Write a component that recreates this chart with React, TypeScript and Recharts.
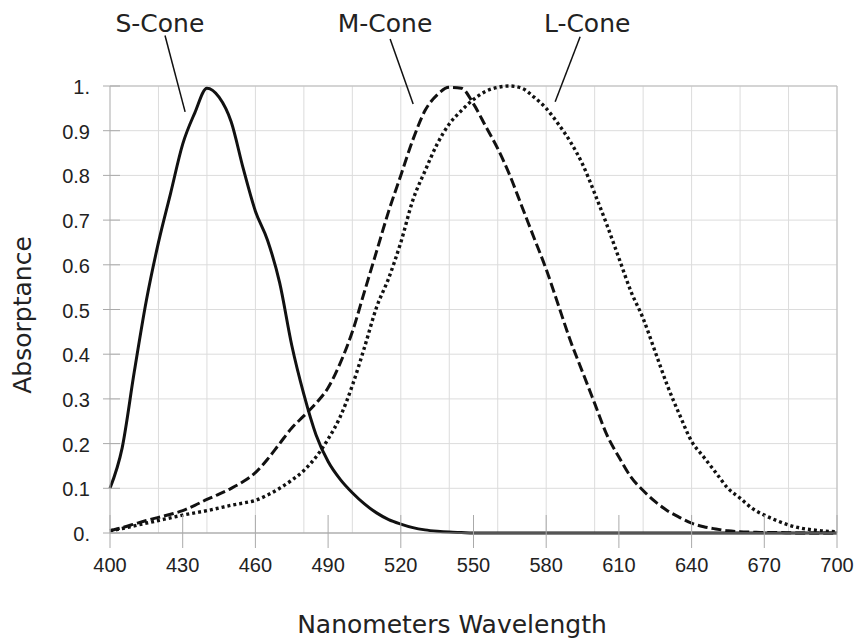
import { LineChart, Line, XAxis, YAxis, CartesianGrid, ReferenceLine, ReferenceDot } from 'recharts';

const wavelengths = [
  400, 405, 410, 415, 420, 425, 430, 435, 440, 445, 450, 455, 460, 465, 470, 475, 480, 485, 490, 495,
  500, 505, 510, 515, 520, 525, 530, 535, 540, 545, 550, 555, 560, 565, 570, 575, 580, 585, 590, 595,
  600, 605, 610, 615, 620, 625, 630, 635, 640, 645, 650, 655, 660, 665, 670, 675, 680, 685, 690, 695, 700,
];

const sCone = [
  0.1, 0.19, 0.36, 0.52, 0.65, 0.76, 0.87, 0.94, 0.995, 0.975, 0.92, 0.815, 0.72, 0.655, 0.56, 0.42, 0.31, 0.22, 0.16, 0.12,
  0.09, 0.065, 0.045, 0.03, 0.02, 0.012, 0.007, 0.004, 0.002, 0.001, 0, 0, 0, 0, 0, 0, 0, 0, 0, 0,
  0, 0, 0, 0, 0, 0, 0, 0, 0, 0, 0, 0, 0, 0, 0, 0, 0, 0, 0, 0, 0,
];

const mCone = [
  0.005, 0.012, 0.02, 0.028, 0.035, 0.042, 0.05, 0.062, 0.075, 0.087, 0.1, 0.115, 0.135, 0.165, 0.2, 0.235, 0.262, 0.29, 0.325, 0.38,
  0.45, 0.54, 0.63, 0.72, 0.8, 0.88, 0.945, 0.98, 0.997, 0.995, 0.96, 0.91, 0.86, 0.8, 0.73, 0.66, 0.59, 0.51, 0.43, 0.36,
  0.29, 0.22, 0.17, 0.125, 0.095, 0.07, 0.05, 0.035, 0.022, 0.014, 0.009, 0.005, 0.003, 0.002, 0.001, 0.001, 0.0005, 0, 0, 0, 0,
];

const lCone = [
  0.005, 0.01, 0.016, 0.022, 0.028, 0.034, 0.04, 0.045, 0.05, 0.056, 0.062, 0.067, 0.073, 0.085, 0.1, 0.118, 0.14, 0.17, 0.21, 0.26,
  0.33, 0.415, 0.505, 0.57, 0.65, 0.745, 0.81, 0.87, 0.915, 0.945, 0.97, 0.988, 0.997, 1.0, 0.995, 0.975, 0.95, 0.915, 0.875, 0.825,
  0.76, 0.69, 0.615, 0.54, 0.48, 0.405, 0.33, 0.265, 0.205, 0.17, 0.135, 0.1, 0.078, 0.055, 0.04, 0.028, 0.018, 0.011, 0.007, 0.004, 0.003,
];

const xTicks = [400, 430, 460, 490, 520, 550, 580, 610, 640, 670, 700];
const yTicks = [0, 0.1, 0.2, 0.3, 0.4, 0.5, 0.6, 0.7, 0.8, 0.9, 1];
const gridX = [
  400, 410, 420, 430, 440, 450, 460, 470, 480, 490, 500, 510, 520, 530, 540, 550,
  560, 570, 580, 590, 600, 610, 620, 630, 640, 650, 660, 670, 680, 690, 700,
];
const gridY = [
  0, 0.05, 0.1, 0.15, 0.2, 0.25, 0.3, 0.35, 0.4, 0.45, 0.5, 0.55, 0.6, 0.65, 0.7, 0.75, 0.8, 0.85, 0.9, 0.95, 1,
];

// cone labels and their leader lines, in data units (above the plot top)
const coneNames = ['S-Cone', 'M-Cone', 'L-Cone'];
const labelAt = [
  { nm: 420.6, v: 1.14 },
  { nm: 513.5, v: 1.14 },
  { nm: 596.9, v: 1.14 },
];
const leaders = [
  [{ x: 422.7, y: 1.113 }, { x: 431, y: 0.942 }],
  [{ x: 515.6, y: 1.105 }, { x: 525.1, y: 0.96 }],
  [{ x: 594, y: 1.11 }, { x: 583.7, y: 0.965 }],
];

const data = wavelengths.map((nm, i) => ({ nm, s: sCone[i], m: mCone[i], l: lCone[i] }));

const tickFont = '"Liberation Sans", Arial, sans-serif';
const titleFont = '"DejaVu Sans", Verdana, sans-serif';

const XTick = (props: any) => {
  const { x, y, payload } = props;
  return (
    <g>
      <line x1={x} x2={x} y1={y - 18} y2={y + 15} stroke="#aaa" />
      <text x={x} y={y + 39} textAnchor="middle" fontSize={20} fontFamily={tickFont} fill="#222">
        {payload.value}
      </text>
    </g>
  );
};

const YTick = (props: any) => {
  const { x, y, payload } = props;
  const v = payload.value;
  const txt = v === 0 ? '0.' : v === 1 ? '1.' : v.toFixed(1);
  return (
    <g>
      <line x1={x - 7} x2={x + 10} y1={y} y2={y} stroke="#aaa" />
      <text x={x - 20} y={y + 8} textAnchor="end" fontSize={20} fontFamily={tickFont} fill="#222">
        {txt}
      </text>
    </g>
  );
};

export default function App() {
  return (
    <div style={{ position: 'absolute', left: 0, top: 0, background: '#fff' }}>
      <LineChart width={854} height={639} data={data} margin={{ top: 86, right: 17, bottom: 0, left: 0 }}>
        <CartesianGrid stroke="#dcdcdc" verticalValues={gridX} horizontalValues={gridY} />
        <XAxis
          dataKey="nm"
          type="number"
          domain={[400, 700]}
          ticks={xTicks}
          height={106}
          tickSize={0}
          tickMargin={0}
          tickLine={false}
          axisLine={{ stroke: '#999' }}
          tick={<XTick />}
          label={{
            content: () => (
              <text x={452} y={633} textAnchor="middle" fontSize={25} fontFamily={titleFont} fill="#222">
                Nanometers Wavelength
              </text>
            ),
          }}
        />
        <YAxis
          type="number"
          domain={[0, 1]}
          ticks={yTicks}
          width={110}
          tickSize={0}
          tickMargin={0}
          tickLine={false}
          axisLine={{ stroke: '#bbb' }}
          tick={<YTick />}
          label={{
            content: () => (
              <text
                x={31}
                y={315}
                transform="rotate(-90 31 315)"
                textAnchor="middle"
                fontSize={25}
                fontFamily={titleFont}
                fill="#222"
              >
                Absorptance
              </text>
            ),
          }}
        />
        <ReferenceLine y={1} stroke="#bbb" />
        <ReferenceLine x={700} stroke="#bbb" />
        {leaders.map((seg, i) => (
          <ReferenceLine key={'ld' + i} segment={seg} stroke="#111" strokeWidth={1.5} ifOverflow="visible" />
        ))}
        {labelAt.map((p, i) => (
          <ReferenceDot
            key={'lb' + i}
            x={p.nm}
            y={p.v}
            r={0}
            fill="none"
            stroke="none"
            ifOverflow="visible"
            label={{
              content: (lp: any) => {
                const vb = lp.viewBox || {};
                const cx = (vb.x ?? 0) + (vb.width ?? 0) / 2;
                const cy = (vb.y ?? 0) + (vb.height ?? 0) / 2;
                return (
                  <text x={cx} y={cy + 9} textAnchor="middle" fontSize={25} fontFamily={titleFont} fill="#222">
                    {coneNames[i]}
                  </text>
                );
              },
            }}
          />
        ))}
        <Line type="monotone" dataKey="l" stroke="#111" strokeWidth={3.4} strokeDasharray="3 3" dot={false} isAnimationActive={false} />
        <Line type="monotone" dataKey="m" stroke="#111" strokeWidth={3} strokeDasharray="10 4" dot={false} isAnimationActive={false} />
        <Line type="monotone" dataKey="s" stroke="#111" strokeWidth={3} dot={false} isAnimationActive={false} />
      </LineChart>
    </div>
  );
}
